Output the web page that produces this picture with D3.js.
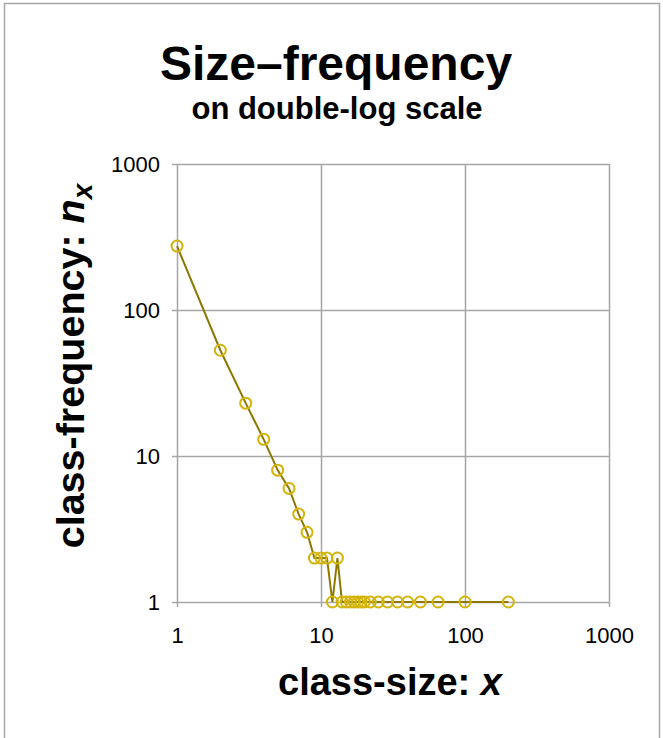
<!DOCTYPE html>
<html>
<head>
<meta charset="utf-8">
<script src="https://cdn.jsdelivr.net/npm/d3@7/dist/d3.min.js"></script>
<style>
    body { margin: 0; background: #fff; }
    svg text { font-family: "Liberation Sans", Arial, Helvetica, sans-serif; }
</style>
</head>
<body>
<svg id="grafico"></svg>
<script>

//Dados do gráfico (tamanho da classe e frequência)
var tamanhos = [1, 2, 3, 4, 5, 6, 7, 8, 9, 10, 11, 12, 13, 14, 15, 16, 17, 18, 19, 20, 22, 25, 29, 34, 40, 49, 65, 100, 200];
var frequencias = [274, 53, 23, 13, 8, 6, 4, 3, 2, 2, 2, 1, 2, 1, 1, 1, 1, 1, 1, 1, 1, 1, 1, 1, 1, 1, 1, 1, 1];
var ticksX = [1, 10, 100, 1000];
var ticksY = [1, 10, 100, 1000];

var titulo = 'Size\u2013frequency';
var subtitulo = 'on double-log scale';

var dados = tamanhos.map((t, i) => ({ tamanho: t, frequencia: frequencias[i] }));

//Seleção do elemento SVG
var svg = d3.select('#grafico')
            .attr('width', 663)
            .attr('height', 738);

//Moldura externa
svg.append('rect')
    .attr('x', 4.5)
    .attr('y', 3.5)
    .attr('width', 655)
    .attr('height', 760)
    .attr('fill', 'none')
    .attr('stroke', '#a6a6a6')
    .attr('stroke-width', 1.5);

//Margens da área de plotagem
var margem = { esquerda: 177, superior: 164 };
var larguraPlotagem = 432;
var alturaPlotagem = 438;

var plotagem = svg.append('g')
                .attr('transform', 'translate(' + margem.esquerda + ',' + margem.superior + ')');

//Escalas logarítmicas
var x = d3.scaleLog()
        .domain([1, 1000])
        .range([0, larguraPlotagem]);
var y = d3.scaleLog()
        .domain([1, 1000])
        .range([alturaPlotagem, 0]);

//Eixo X com linhas de grade
var eixoX = d3.axisBottom(x)
            .tickValues(ticksX)
            .tickFormat(d3.format('d'));
var gX = plotagem.append('g')
            .attr('transform', 'translate(0,' + alturaPlotagem + ')')
            .call(eixoX);
gX.select('.domain').remove();
gX.selectAll('.tick line')
    .attr('y1', 5)
    .attr('y2', -alturaPlotagem)
    .attr('stroke', '#a6a6a6')
    .attr('stroke-width', 1.5);
gX.selectAll('.tick text')
    .attr('y', 41)
    .attr('dy', 0)
    .attr('fill', '#000')
    .style('font-size', '22px');

//Eixo Y com linhas de grade
var eixoY = d3.axisLeft(y)
            .tickValues(ticksY)
            .tickFormat(d3.format('d'));
var gY = plotagem.append('g')
            .call(eixoY);
gY.select('.domain').remove();
gY.selectAll('.tick line')
    .attr('x1', -5)
    .attr('x2', larguraPlotagem)
    .attr('stroke', '#a6a6a6')
    .attr('stroke-width', 1.5);
gY.selectAll('.tick text')
    .attr('x', -17)
    .attr('dy', '0.36em')
    .attr('fill', '#000')
    .style('font-size', '22px');

//Linha que liga os pontos
var linha = d3.line()
            .x(d => x(d.tamanho))
            .y(d => y(d.frequencia));

plotagem.append('path')
    .datum(dados)
    .attr('d', linha)
    .attr('fill', 'none')
    .attr('stroke', '#8c7800')
    .attr('stroke-width', 2);

//Pontos (círculos vazados)
plotagem.selectAll('.ponto')
    .data(dados)
    .enter()
    .append('circle')
    .classed('ponto', true)
    .attr('cx', d => x(d.tamanho))
    .attr('cy', d => y(d.frequencia))
    .attr('r', 5.5)
    .attr('fill', 'none')
    .attr('stroke', '#d4b40a')
    .attr('stroke-width', 2);

//Títulos
svg.append('text')
    .attr('x', 336)
    .attr('y', 80)
    .style('text-anchor', 'middle')
    .style('font-size', '48px')
    .style('font-weight', 'bold')
    .text(titulo);

svg.append('text')
    .attr('x', 337)
    .attr('y', 119)
    .style('text-anchor', 'middle')
    .style('font-size', '31px')
    .style('font-weight', 'bold')
    .text(subtitulo);

//Título do eixo X
var tituloX = svg.append('text')
    .attr('x', 390)
    .attr('y', 695)
    .style('text-anchor', 'middle')
    .style('font-size', '38px')
    .style('font-weight', 'bold');
tituloX.append('tspan').text('class-size: ');
tituloX.append('tspan').style('font-style', 'italic').text('x');

//Título do eixo Y
var tituloY = svg.append('text')
    .attr('transform', 'translate(84,366) rotate(-90)')
    .style('text-anchor', 'middle')
    .style('font-size', '39.5px')
    .style('font-weight', 'bold');
tituloY.append('tspan').text('class-frequency: ');
tituloY.append('tspan').style('font-style', 'italic').text('n');
tituloY.append('tspan')
    .style('font-style', 'italic')
    .style('font-size', '28px')
    .attr('dy', 8)
    .text('x');

</script>
</body>
</html>
